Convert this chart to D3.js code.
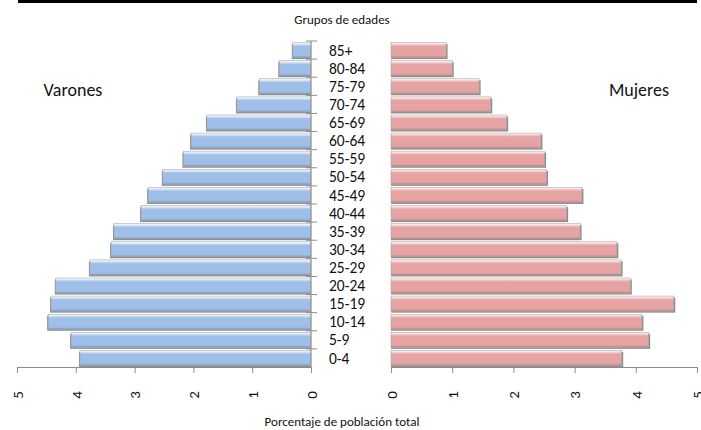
<!DOCTYPE html>
<html>
<head>
<meta charset="utf-8">
<script src="https://cdnjs.cloudflare.com/ajax/libs/d3/7.8.5/d3.min.js"></script>
<style>
  body { margin: 0; background: #fff; }
  text { font-family: Carlito, "Open Sans", "Noto Sans", sans-serif; fill: #111; }
</style>
</head>
<body>
<div id="chart"></div>
<script>
// grupos de edad, de arriba a abajo
var grupos = ["85+", "80-84", "75-79", "70-74", "65-69", "60-64", "55-59", "50-54", "45-49",
    "40-44", "35-39", "30-34", "25-29", "20-24", "15-19", "10-14", "5-9", "0-4"];
// porcentaje de poblacion total
var varones = [0.31, 0.54, 0.88, 1.26, 1.77, 2.04, 2.17, 2.52, 2.77,
    2.89, 3.35, 3.40, 3.76, 4.34, 4.42, 4.47, 4.08, 3.93];
var mujeres = [0.90, 1.00, 1.44, 1.63, 1.89, 2.45, 2.51, 2.54, 3.12,
    2.87, 3.09, 3.69, 3.76, 3.91, 4.62, 4.10, 4.21, 3.77];
var ticks = [0, 1, 2, 3, 4, 5];

var W = 701, H = 430;
var svg = d3.select("#chart").append("svg").attr("width", W).attr("height", H);

// degradados para el efecto biselado
var defs = svg.append("defs");
function grad(id, light, base, dark) {
    var g = defs.append("linearGradient").attr("id", id)
        .attr("x1", 0).attr("y1", 0).attr("x2", 0).attr("y2", 1);
    g.append("stop").attr("offset", "0%").attr("stop-color", "#ffffff");
    g.append("stop").attr("offset", "12%").attr("stop-color", light);
    g.append("stop").attr("offset", "25%").attr("stop-color", base);
    g.append("stop").attr("offset", "85%").attr("stop-color", base);
    g.append("stop").attr("offset", "100%").attr("stop-color", dark);
}
grad("gAzul", "#d4e4f7", "#9fbfe8", "#7f9fc8");
grad("gRosa", "#f6d0d0", "#e6a3a3", "#c48484");

// barra negra superior
svg.append("rect").attr("x", 18).attr("y", 0).attr("width", 679).attr("height", 3).attr("fill", "#000");

var y = d3.scaleBand().domain(grupos).range([41, 367]).paddingInner(0.17).paddingOuter(0.085);
var xL = d3.scaleLinear().domain([0, 5]).range([311, 17]);
var xR = d3.scaleLinear().domain([0, 5]).range([391, 697]);

// sombras
svg.append("g").selectAll("rect").data(grupos).enter().append("rect")
    .attr("x", function (d, i) { return xL(varones[i]) - 1; })
    .attr("y", function (d) { return y(d) + 1.5; })
    .attr("width", function (d, i) { return xL(0) - xL(varones[i]) + 1; })
    .attr("height", y.bandwidth())
    .attr("fill", "#8c8c8c");
svg.append("g").selectAll("rect").data(grupos).enter().append("rect")
    .attr("x", xR(0))
    .attr("y", function (d) { return y(d) + 1.5; })
    .attr("width", function (d, i) { return xR(mujeres[i]) - xR(0) + 1.5; })
    .attr("height", y.bandwidth())
    .attr("fill", "#8c8c8c");

// barras varones
svg.append("g").selectAll("rect").data(grupos).enter().append("rect")
    .attr("x", function (d, i) { return xL(varones[i]); })
    .attr("y", function (d) { return y(d); })
    .attr("width", function (d, i) { return xL(0) - xL(varones[i]); })
    .attr("height", y.bandwidth())
    .attr("fill", "url(#gAzul)")
    .attr("stroke", "#a9a9a9").attr("stroke-width", 0.6);

// barras mujeres
svg.append("g").selectAll("rect").data(grupos).enter().append("rect")
    .attr("x", xR(0))
    .attr("y", function (d) { return y(d); })
    .attr("width", function (d, i) { return xR(mujeres[i]) - xR(0); })
    .attr("height", y.bandwidth())
    .attr("fill", "url(#gRosa)")
    .attr("stroke", "#a9a9a9").attr("stroke-width", 0.6);

// eje de categorias (lado varones)
var step = y.step();
var catAxis = svg.append("g");
catAxis.append("line").attr("x1", 311).attr("x2", 311).attr("y1", 41).attr("y2", 367)
    .attr("stroke", "#8c8c8c");
catAxis.selectAll("line.tk").data(grupos).enter().append("line").attr("class", "tk")
    .attr("x1", 306).attr("x2", 317)
    .attr("y1", function (d) { return y(d) - y.paddingInner() * step / 2; })
    .attr("y2", function (d) { return y(d) - y.paddingInner() * step / 2; })
    .attr("stroke", "#8c8c8c");

// etiquetas de grupos
svg.append("g").selectAll("text").data(grupos).enter().append("text")
    .attr("x", 329)
    .attr("y", function (d) { return y(d) + y.bandwidth() / 2; })
    .attr("dy", "0.36em")
    .attr("font-size", 15.5)
    .text(function (d) { return d; });

// ejes x
function ejeX(scale) {
    var g = svg.append("g").attr("transform", "translate(0,367)")
        .call(d3.axisBottom(scale).tickValues(ticks).tickSize(6).tickSizeOuter(0).tickFormat(d3.format("d")));
    g.select(".domain").attr("stroke", "#8c8c8c");
    g.selectAll(".tick line").attr("stroke", "#8c8c8c");
    g.selectAll(".tick text")
        .attr("font-family", "Carlito, 'Open Sans', 'Noto Sans', sans-serif")
        .attr("font-size", 15).attr("fill", "#111")
        .attr("transform", "rotate(-90)")
        .attr("text-anchor", "middle")
        .attr("x", -28).attr("y", 0).attr("dy", "0.35em");
}
ejeX(xL);
ejeX(xR);

// titulos
svg.append("text").attr("x", 342).attr("y", 24).attr("text-anchor", "middle")
    .attr("font-size", 13).text("Grupos de edades");
svg.append("text").attr("x", 73).attr("y", 96).attr("text-anchor", "middle")
    .attr("font-size", 18).text("Varones");
svg.append("text").attr("x", 639).attr("y", 96).attr("text-anchor", "middle")
    .attr("font-size", 18).text("Mujeres");
svg.append("text").attr("x", 342).attr("y", 426).attr("text-anchor", "middle")
    .attr("font-size", 13).text("Porcentaje de población total");
</script>
</body>
</html>
